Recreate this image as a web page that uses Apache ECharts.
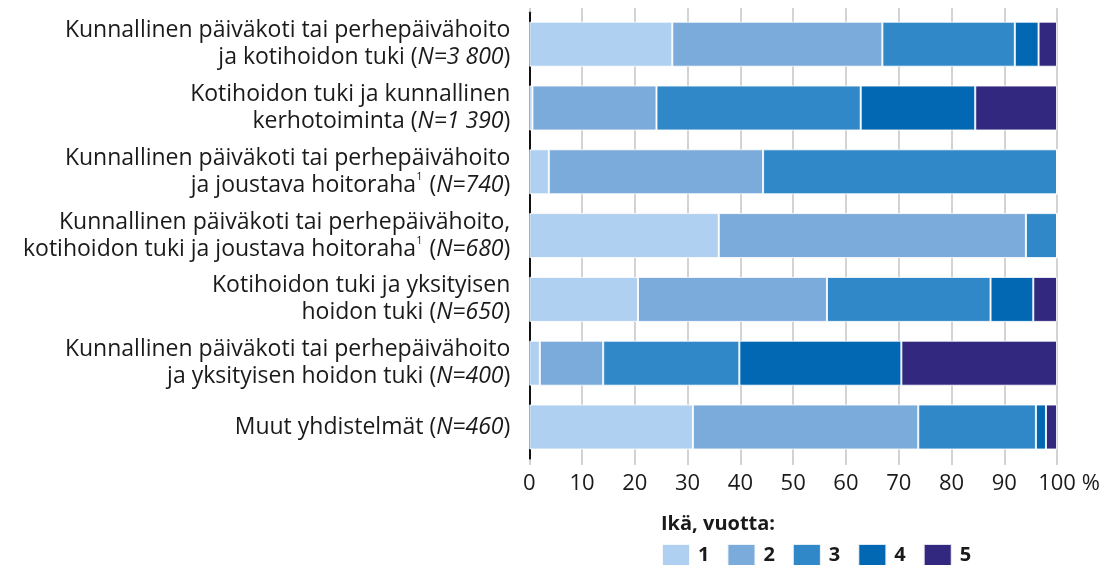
<!DOCTYPE html>
<html>
<head>
<meta charset="utf-8">
<script src="https://cdn.jsdelivr.net/npm/echarts@6/dist/echarts.min.js"></script>
<style>
  html, body { margin: 0; padding: 0; background: #fff; }
  #chart { width: 1103px; height: 565px; }
</style>
</head>
<body>
<div id="chart"></div>
<script>
const categories = [
  'Kunnallinen päiväkoti tai perhepäivähoito\nja kotihoidon tuki ({i|N=3 800})',
  'Kotihoidon tuki ja kunnallinen\nkerhotoiminta ({i|N=1 390})',
  'Kunnallinen päiväkoti tai perhepäivähoito\nja joustava hoitoraha{sup|1} ({i|N=740})',
  'Kunnallinen päiväkoti tai perhepäivähoito,\nkotihoidon tuki ja joustava hoitoraha{sup|1} ({i|N=680})',
  'Kotihoidon tuki ja yksityisen\nhoidon tuki ({i|N=650})',
  'Kunnallinen päiväkoti tai perhepäivähoito\nja yksityisen hoidon tuki ({i|N=400})',
  'Muut yhdistelmät ({i|N=460})'
]
const ages = ['1', '2', '3', '4', '5']
const age1 = [27.1, 0.6, 3.7, 35.9, 20.6, 2.0, 31.0]
const age2 = [39.8, 23.5, 40.6, 58.2, 35.8, 12.0, 42.7]
const age3 = [25.1, 38.7, 55.7, 5.9, 31.0, 25.8, 22.3]
const age4 = [4.5, 21.7, 0, 0, 8.1, 30.7, 1.9]
const age5 = [3.5, 15.5, 0, 0, 4.5, 29.5, 2.1]
const colors = ['#afd0f0', '#7aabdb', '#3188c8', '#0368b3', '#32287f']

const FONT = 'Open Sans'
const TXT = '#1a1a1a'
const GRIDC = '#c4c4c4'

const chart = echarts.init(document.getElementById('chart'))

const values = [age1, age2, age3, age4, age5]
const series = ages.map((a, i) => ({
  name: a, type: 'bar', stack: 'total', barWidth: 45,
  itemStyle: { color: colors[i], borderColor: 'rgba(255,255,255,0.85)', borderWidth: 1 },
  emphasis: { disabled: true },
  data: values[i]
}))

chart.setOption({
  animation: false,
  textStyle: { fontFamily: FONT },
  title: {
    text: 'Ikä, vuotta:', left: 656, top: 509,
    textStyle: { fontFamily: FONT, fontWeight: 'bold', fontSize: 20, color: TXT }
  },
  legend: {
    left: 656, top: 538, itemWidth: 28, itemHeight: 22, itemGap: 17,
    icon: 'rect', selectedMode: false,
    textStyle: { fontFamily: FONT, fontWeight: 'bold', fontSize: 20, color: TXT, padding: [0, 0, 0, 3] },
    data: ages
  },
  grid: { left: 529.3, right: 45.7, top: 12.3, height: 446.6 },
  xAxis: [{
    type: 'value', min: 0, max: 100, interval: 10,
    axisLine: { show: false },
    axisTick: { show: true, length: 6, lineStyle: { color: GRIDC, width: 1.5 } },
    splitLine: { show: true, lineStyle: { color: GRIDC, width: 1.5 } },
    axisLabel: { fontFamily: FONT, fontSize: 22, color: TXT, margin: 14 },
    name: '%', nameLocation: 'end', nameGap: 22,
    nameTextStyle: { fontFamily: FONT, fontSize: 22, color: TXT, verticalAlign: 'top', padding: [14, 0, 0, 0] }
  }, {
    type: 'value', min: 0, max: 100, interval: 10, position: 'top',
    axisLine: { show: false },
    axisTick: { show: true, length: 4.3, lineStyle: { color: GRIDC, width: 1.5 } },
    splitLine: { show: false },
    axisLabel: { show: false }
  }],
  yAxis: [{
    type: 'category', inverse: true, data: categories,
    axisLine: { show: true, lineStyle: { color: '#111', width: 2 } },
    axisTick: { show: false },
    axisLabel: {
      fontFamily: FONT, fontSize: 23, color: TXT, margin: 19, align: 'right', lineHeight: 27,
      rich: {
        i: { fontFamily: FONT, fontSize: 23, color: TXT, fontStyle: 'italic', lineHeight: 27 },
        sup: { fontFamily: FONT, fontSize: 11, color: TXT, verticalAlign: 'top', lineHeight: 27, padding: [0, 1, 10, 0] }
      }
    }
  }, {
    type: 'category', inverse: true, position: 'right', data: categories,
    axisLine: { show: true, lineStyle: { color: '#111', width: 2 } },
    axisTick: { show: false },
    axisLabel: { show: false }
  }],
  series
})
</script>
</body>
</html>
